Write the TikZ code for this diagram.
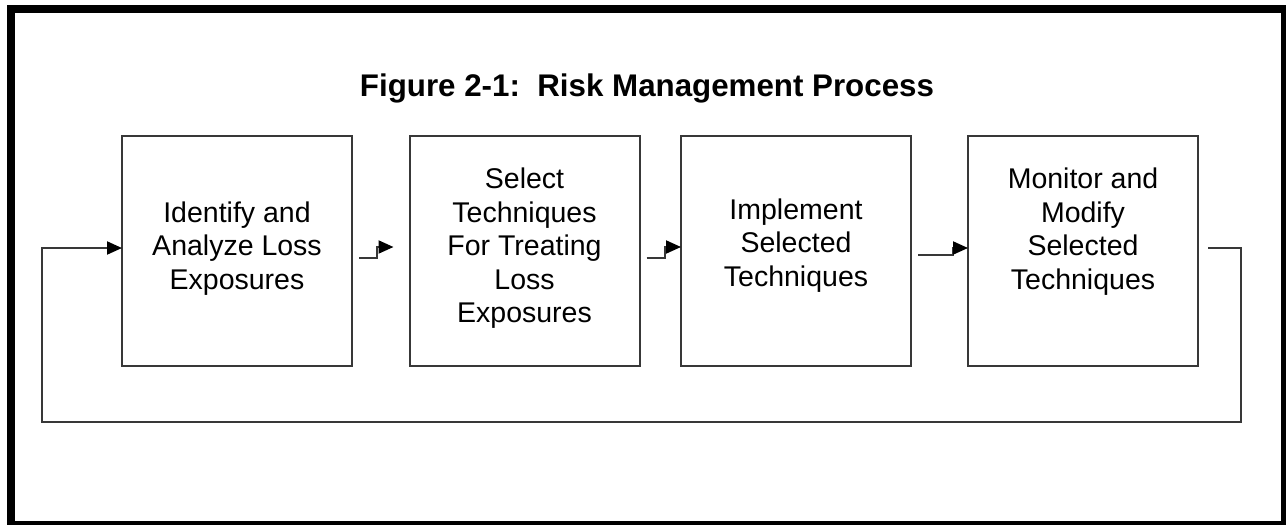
\documentclass[tikz,border=0pt]{standalone}
\usepackage{fontspec}
\setmainfont{Liberation Sans}
\usetikzlibrary{arrows.meta}
\begin{document}
\begin{tikzpicture}[x=1pt,y=-1pt,
  stepbox/.style={draw=black!78, line width=2pt, minimum width=230pt, minimum height=230pt, inner sep=0pt, outer sep=0pt},
  boxtext/.style={align=center, inner sep=0pt, font=\fontsize{28.5}{33.5}\selectfont},
  conn/.style={draw=black!78, line width=2pt},
  arr/.style={conn, -{Triangle[length=15pt,width=13pt,fill=black,color=black]}},
]
\useasboundingbox (0,0) rectangle (1287,525);
\fill[white] (0,0) rectangle (1287,525);
% outer frame
\fill[black] (7,5) rectangle (15,525);
\fill[black] (7,5) rectangle (1286,13);
\fill[black] (1281,5) rectangle (1286,525);
\fill[black] (7,521) rectangle (1286,525);
% title
\node[font=\bfseries\fontsize{31.3}{36}\selectfont, anchor=base, inner sep=0pt] (title) at (647,96) {Figure 2-1:\ \ Risk Management Process};
% boxes
\node[stepbox] (b1) at (237,251) {};
\node[stepbox] (b2) at (524.5,251) {};
\node[stepbox] (b3) at (796,251) {};
\node[stepbox] (b4) at (1083,251) {};
% texts
\node[boxtext] (t1) at (237,248.5) {Identify and\\Analyze Loss\\Exposures};
\node[boxtext] (t2) at (524.5,248.5) {Select\\Techniques\\For Treating\\Loss\\Exposures};
\node[boxtext] (t3) at (796,245.5) {Implement\\Selected\\Techniques};
\node[boxtext] (t4) at (1083,231.5) {Monitor and\\Modify\\Selected\\Techniques};
% connectors
\draw[arr] ([xshift=7pt,yshift=-7pt]b1.east) -- ++(18,0) -- ++(0,-11) -- ([xshift=-16pt,yshift=4pt]b2.west);
\draw[arr] ([xshift=7pt,yshift=-7pt]b2.east) -- ++(18,0) -- ++(0,-11) -- ([yshift=4pt]b3.west);
\draw[arr] ([xshift=7pt,yshift=-4pt]b3.east) -- ++(35,0) -- ++(0,-7) -- ([yshift=3pt]b4.west);
% feedback loop
\coordinate (loopR) at (1241,422);
\coordinate (loopL) at (42,422);
\draw[arr] ([xshift=10pt,yshift=3pt]b4.east) -- ([xshift=43pt,yshift=3pt]b4.east) -- (loopR) -- (loopL) -- (loopL |- 0,248) -- ([yshift=3pt]b1.west);
\end{tikzpicture}
\end{document}
